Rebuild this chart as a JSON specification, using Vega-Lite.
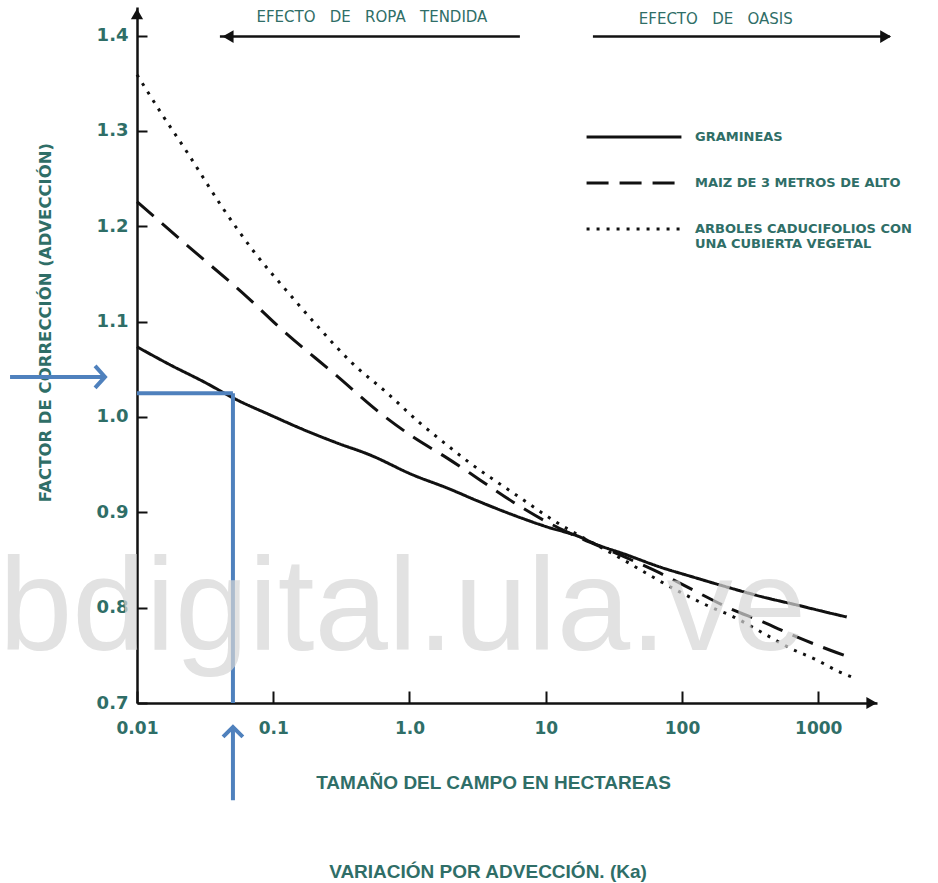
{
  "$schema": "https://vega.github.io/schema/vega-lite/v6.json",
  "width": 740,
  "height": 696,
  "autosize": {"type": "none"},
  "padding": {"left": 137, "top": 7, "right": 61, "bottom": 180},
  "background": "white",
  "config": {"view": {"stroke": null}},
  "title": {
    "text": "VARIACIÓN POR ADVECCIÓN. (Ka)",
    "orient": "bottom",
    "anchor": "middle",
    "offset": 61,
    "dx": -19,
    "font": "Liberation Sans Narrow, Liberation Sans, Arial, sans-serif",
    "fontSize": 19,
    "fontWeight": "bold",
    "color": "#2f6e67"
  },
  "layer": [
    {
      "data": {
        "values": [
          {"serie": "GRAMINEAS", "ha": 0.01, "k": 1.0736},
          {"serie": "GRAMINEAS", "ha": 0.0175, "k": 1.0547},
          {"serie": "GRAMINEAS", "ha": 0.031, "k": 1.0368},
          {"serie": "GRAMINEAS", "ha": 0.0542, "k": 1.0179},
          {"serie": "GRAMINEAS", "ha": 0.0946, "k": 1.0022},
          {"serie": "GRAMINEAS", "ha": 0.168, "k": 0.9865},
          {"serie": "GRAMINEAS", "ha": 0.293, "k": 0.9728},
          {"serie": "GRAMINEAS", "ha": 0.512, "k": 0.9602},
          {"serie": "GRAMINEAS", "ha": 1.06, "k": 0.9392},
          {"serie": "GRAMINEAS", "ha": 1.88, "k": 0.9256},
          {"serie": "GRAMINEAS", "ha": 3.29, "k": 0.9109},
          {"serie": "GRAMINEAS", "ha": 5.74, "k": 0.8973},
          {"serie": "GRAMINEAS", "ha": 10.2, "k": 0.8847},
          {"serie": "GRAMINEAS", "ha": 17.8, "k": 0.8742},
          {"serie": "GRAMINEAS", "ha": 22.2, "k": 0.8679},
          {"serie": "GRAMINEAS", "ha": 39.4, "k": 0.8553},
          {"serie": "GRAMINEAS", "ha": 68.7, "k": 0.8427},
          {"serie": "GRAMINEAS", "ha": 120, "k": 0.8322},
          {"serie": "GRAMINEAS", "ha": 213, "k": 0.8217},
          {"serie": "GRAMINEAS", "ha": 392, "k": 0.8112},
          {"serie": "GRAMINEAS", "ha": 696, "k": 0.8028},
          {"serie": "GRAMINEAS", "ha": 1213, "k": 0.7944},
          {"serie": "GRAMINEAS", "ha": 1618, "k": 0.7902},
          {"serie": "MAIZ DE 3 METROS DE ALTO", "ha": 0.01, "k": 1.2257},
          {"serie": "MAIZ DE 3 METROS DE ALTO", "ha": 0.0245, "k": 1.1774},
          {"serie": "MAIZ DE 3 METROS DE ALTO", "ha": 0.0641, "k": 1.126},
          {"serie": "MAIZ DE 3 METROS DE ALTO", "ha": 0.112, "k": 1.0935},
          {"serie": "MAIZ DE 3 METROS DE ALTO", "ha": 0.293, "k": 1.0431},
          {"serie": "MAIZ DE 3 METROS DE ALTO", "ha": 0.607, "k": 1.0043},
          {"serie": "MAIZ DE 3 METROS DE ALTO", "ha": 1.06, "k": 0.9791},
          {"serie": "MAIZ DE 3 METROS DE ALTO", "ha": 1.88, "k": 0.9571},
          {"serie": "MAIZ DE 3 METROS DE ALTO", "ha": 3.29, "k": 0.934},
          {"serie": "MAIZ DE 3 METROS DE ALTO", "ha": 5.74, "k": 0.9109},
          {"serie": "MAIZ DE 3 METROS DE ALTO", "ha": 10.2, "k": 0.8899},
          {"serie": "MAIZ DE 3 METROS DE ALTO", "ha": 14.3, "k": 0.8794},
          {"serie": "MAIZ DE 3 METROS DE ALTO", "ha": 39.4, "k": 0.8521},
          {"serie": "MAIZ DE 3 METROS DE ALTO", "ha": 68.7, "k": 0.8364},
          {"serie": "MAIZ DE 3 METROS DE ALTO", "ha": 120, "k": 0.8187},
          {"serie": "MAIZ DE 3 METROS DE ALTO", "ha": 213, "k": 0.8007},
          {"serie": "MAIZ DE 3 METROS DE ALTO", "ha": 392, "k": 0.785},
          {"serie": "MAIZ DE 3 METROS DE ALTO", "ha": 696, "k": 0.7693},
          {"serie": "MAIZ DE 3 METROS DE ALTO", "ha": 1213, "k": 0.7556},
          {"serie": "MAIZ DE 3 METROS DE ALTO", "ha": 1761, "k": 0.7472},
          {"serie": "ARBOLES CADUCIFOLIOS CON UNA CUBIERTA VEGETAL", "ha": 0.01, "k": 1.359},
          {"serie": "ARBOLES CADUCIFOLIOS CON UNA CUBIERTA VEGETAL", "ha": 0.015, "k": 1.319},
          {"serie": "ARBOLES CADUCIFOLIOS CON UNA CUBIERTA VEGETAL", "ha": 0.0237, "k": 1.2761},
          {"serie": "ARBOLES CADUCIFOLIOS CON UNA CUBIERTA VEGETAL", "ha": 0.042, "k": 1.2205},
          {"serie": "ARBOLES CADUCIFOLIOS CON UNA CUBIERTA VEGETAL", "ha": 0.0722, "k": 1.1733},
          {"serie": "ARBOLES CADUCIFOLIOS CON UNA CUBIERTA VEGETAL", "ha": 0.133, "k": 1.1281},
          {"serie": "ARBOLES CADUCIFOLIOS CON UNA CUBIERTA VEGETAL", "ha": 0.22, "k": 1.0924},
          {"serie": "ARBOLES CADUCIFOLIOS CON UNA CUBIERTA VEGETAL", "ha": 0.378, "k": 1.0568},
          {"serie": "ARBOLES CADUCIFOLIOS CON UNA CUBIERTA VEGETAL", "ha": 0.683, "k": 1.0253},
          {"serie": "ARBOLES CADUCIFOLIOS CON UNA CUBIERTA VEGETAL", "ha": 1.19, "k": 0.9938},
          {"serie": "ARBOLES CADUCIFOLIOS CON UNA CUBIERTA VEGETAL", "ha": 1.88, "k": 0.9707},
          {"serie": "ARBOLES CADUCIFOLIOS CON UNA CUBIERTA VEGETAL", "ha": 2.77, "k": 0.9518},
          {"serie": "ARBOLES CADUCIFOLIOS CON UNA CUBIERTA VEGETAL", "ha": 4.38, "k": 0.9319},
          {"serie": "ARBOLES CADUCIFOLIOS CON UNA CUBIERTA VEGETAL", "ha": 6.68, "k": 0.9141},
          {"serie": "ARBOLES CADUCIFOLIOS CON UNA CUBIERTA VEGETAL", "ha": 10.7, "k": 0.8941},
          {"serie": "ARBOLES CADUCIFOLIOS CON UNA CUBIERTA VEGETAL", "ha": 35, "k": 0.8522},
          {"serie": "ARBOLES CADUCIFOLIOS CON UNA CUBIERTA VEGETAL", "ha": 96.3, "k": 0.8165},
          {"serie": "ARBOLES CADUCIFOLIOS CON UNA CUBIERTA VEGETAL", "ha": 168, "k": 0.7997},
          {"serie": "ARBOLES CADUCIFOLIOS CON UNA CUBIERTA VEGETAL", "ha": 224, "k": 0.7923},
          {"serie": "ARBOLES CADUCIFOLIOS CON UNA CUBIERTA VEGETAL", "ha": 392, "k": 0.7735},
          {"serie": "ARBOLES CADUCIFOLIOS CON UNA CUBIERTA VEGETAL", "ha": 618, "k": 0.7577},
          {"serie": "ARBOLES CADUCIFOLIOS CON UNA CUBIERTA VEGETAL", "ha": 975, "k": 0.7451},
          {"serie": "ARBOLES CADUCIFOLIOS CON UNA CUBIERTA VEGETAL", "ha": 1438, "k": 0.7325},
          {"serie": "ARBOLES CADUCIFOLIOS CON UNA CUBIERTA VEGETAL", "ha": 1761, "k": 0.7273}
        ]
      },
      "mark": {"type": "line", "interpolate": "monotone", "color": "#111111", "strokeWidth": 3},
      "encoding": {
        "x": {
          "field": "ha",
          "type": "quantitative",
          "scale": {"type": "log", "domain": [0.01, 2700], "nice": false},
          "title": "TAMAÑO DEL CAMPO EN HECTAREAS",
          "axis": {
            "values": [0.01, 0.1, 1, 10, 100, 1000],
            "labelExpr": "datum.value == 1 ? '1.0' : datum.value < 1 ? format(datum.value, '.2~f') : format(datum.value, 'd')",
            "grid": false,
            "domainColor": "#111111",
            "domainWidth": 2.5,
            "tickColor": "#111111",
            "tickWidth": 2,
            "tickSize": -12,
            "labelPadding": 37,
            "labelBaseline": "middle",
            "labelFlush": false,
            "labelOverlap": false,
            "labelFont": "DejaVu Sans",
            "labelFontSize": 17,
            "labelFontWeight": "bold",
            "labelColor": "#2f6e67",
            "titleFont": "Liberation Sans Narrow, Liberation Sans, Arial, sans-serif",
            "titleFontSize": 19,
            "titleFontWeight": "bold",
            "titleColor": "#2f6e67",
            "titleX": 356,
            "titleY": 79,
            "titleAlign": "center",
            "titleBaseline": "middle"
          }
        },
        "y": {
          "field": "k",
          "type": "quantitative",
          "scale": {"domain": [0.7, 1.43], "nice": false, "zero": false},
          "title": "FACTOR DE CORRECCIÓN (ADVECCIÓN)",
          "axis": {
            "values": [0.7, 0.8, 0.9, 1.0, 1.1, 1.2, 1.3, 1.4],
            "format": ".1f",
            "grid": false,
            "domainColor": "#111111",
            "domainWidth": 2.5,
            "tickColor": "#111111",
            "tickWidth": 2,
            "tickSize": -10,
            "labelPadding": 19,
            "labelFlush": false,
            "labelOverlap": false,
            "labelFont": "DejaVu Sans",
            "labelFontSize": 18,
            "labelFontWeight": "bold",
            "labelColor": "#2f6e67",
            "titleFont": "DejaVu Sans",
            "titleFontSize": 16.5,
            "titleFontWeight": "bold",
            "titleColor": "#2f6e67",
            "titleAngle": -90,
            "titleX": -92,
            "titleY": 315,
            "titleAlign": "center",
            "titleBaseline": "middle"
          }
        },
        "strokeDash": {
          "field": "serie",
          "type": "nominal",
          "scale": {
            "domain": ["GRAMINEAS", "MAIZ DE 3 METROS DE ALTO", "ARBOLES CADUCIFOLIOS CON UNA CUBIERTA VEGETAL"],
            "range": [[1, 0], [22, 11], [3, 7]]
          },
          "legend": {
            "title": null,
            "orient": "none",
            "legendX": 448,
            "legendY": 113,
            "padding": 0,
            "symbolType": "stroke",
            "symbolSize": 9000,
            "symbolStrokeWidth": 3,
            "symbolStrokeColor": "#111111",
            "clipHeight": 34,
            "rowPadding": 12,
            "labelOffset": 12,
            "labelLimit": 400,
            "labelFont": "DejaVu Sans",
            "labelFontSize": 13,
            "labelFontWeight": "bold",
            "labelColor": "#2f6e67",
            "labelExpr": "datum.label == 'ARBOLES CADUCIFOLIOS CON UNA CUBIERTA VEGETAL' ? ['ARBOLES CADUCIFOLIOS CON', '\u00a0\u00a0\u00a0\u00a0UNA CUBIERTA VEGETAL'] : datum.label"
          }
        }
      }
    },
    {
      "data": {"values": [{}]},
      "mark": {"type": "point", "shape": "triangle-up", "filled": true, "color": "#111111", "size": 150, "opacity": 1},
      "encoding": {"x": {"datum": 0.01}, "y": {"datum": 1.4227}}
    },
    {
      "data": {"values": [{}]},
      "mark": {"type": "point", "shape": "triangle-right", "filled": true, "color": "#111111", "size": 150, "opacity": 1},
      "encoding": {"x": {"datum": 2469}, "y": {"datum": 0.7}}
    },
    {
      "data": {"values": [{}]},
      "mark": {"type": "rule", "color": "#111111", "strokeWidth": 2.5},
      "encoding": {"x": {"datum": 0.0406}, "x2": {"datum": 6.46}, "y": {"datum": 1.399}}
    },
    {
      "data": {"values": [{}]},
      "mark": {"type": "point", "shape": "triangle-left", "filled": true, "color": "#111111", "size": 160, "opacity": 1},
      "encoding": {"x": {"datum": 0.0466}, "y": {"datum": 1.399}}
    },
    {
      "data": {"values": [{}]},
      "mark": {"type": "rule", "color": "#111111", "strokeWidth": 2.5},
      "encoding": {"x": {"datum": 22.2}, "x2": {"datum": 3350}, "y": {"datum": 1.399}}
    },
    {
      "data": {"values": [{}]},
      "mark": {"type": "point", "shape": "triangle-right", "filled": true, "color": "#111111", "size": 160, "opacity": 1},
      "encoding": {"x": {"datum": 3126}, "y": {"datum": 1.399}}
    },
    {
      "data": {"values": [{}]},
      "mark": {"type": "text", "text": "EFECTO\u00a0\u00a0\u00a0DE\u00a0\u00a0\u00a0ROPA\u00a0\u00a0\u00a0TENDIDA", "font": "DejaVu Sans", "fontSize": 15, "color": "#2f6e67", "align": "center", "baseline": "middle"},
      "encoding": {"x": {"datum": 0.53}, "y": {"datum": 1.419}}
    },
    {
      "data": {"values": [{}]},
      "mark": {"type": "text", "text": "EFECTO\u00a0\u00a0\u00a0DE\u00a0\u00a0\u00a0OASIS", "font": "DejaVu Sans", "fontSize": 15, "color": "#2f6e67", "align": "center", "baseline": "middle"},
      "encoding": {"x": {"datum": 177}, "y": {"datum": 1.417}}
    },
    {
      "data": {"values": [{}]},
      "mark": {"type": "rule", "color": "#4f81bd", "strokeWidth": 4},
      "encoding": {"x": {"datum": 0.00117}, "x2": {"datum": 0.0057}, "y": {"datum": 1.042}}
    },
    {
      "data": {"values": [{}]},
      "mark": {"type": "point", "shape": "M-0.9,-1L0,0L-0.9,1", "filled": false, "stroke": "#4f81bd", "strokeWidth": 4, "size": 484, "opacity": 1},
      "encoding": {"x": {"datum": 0.00582}, "y": {"datum": 1.042}}
    },
    {
      "data": {"values": [{}]},
      "mark": {"type": "rule", "color": "#4f81bd", "strokeWidth": 4},
      "encoding": {"x": {"datum": 0.01}, "x2": {"datum": 0.0506}, "y": {"datum": 1.025}}
    },
    {
      "data": {"values": [{}]},
      "mark": {"type": "rule", "color": "#4f81bd", "strokeWidth": 4},
      "encoding": {"x": {"datum": 0.0506}, "y": {"datum": 1.025}, "y2": {"datum": 0.7}}
    },
    {
      "data": {"values": [{}]},
      "mark": {"type": "rule", "color": "#4f81bd", "strokeWidth": 4},
      "encoding": {"x": {"datum": 0.0506}, "y": {"datum": 0.6748}, "y2": {"datum": 0.598}}
    },
    {
      "data": {"values": [{}]},
      "mark": {"type": "point", "shape": "M-0.9,0.9L0,0L0.9,0.9", "filled": false, "stroke": "#4f81bd", "strokeWidth": 4, "size": 484, "opacity": 1},
      "encoding": {"x": {"datum": 0.0506}, "y": {"datum": 0.6748}}
    },
    {
      "data": {"values": [{}]},
      "mark": {"type": "text", "text": "bdigital.ula.ve", "font": "Liberation Sans, Arial, sans-serif", "fontSize": 132, "color": "#d6d6d6", "opacity": 0.7, "align": "left", "baseline": "alphabetic"},
      "encoding": {"x": {"datum": 0.00097}, "y": {"datum": 0.7556}}
    }
  ]
}
